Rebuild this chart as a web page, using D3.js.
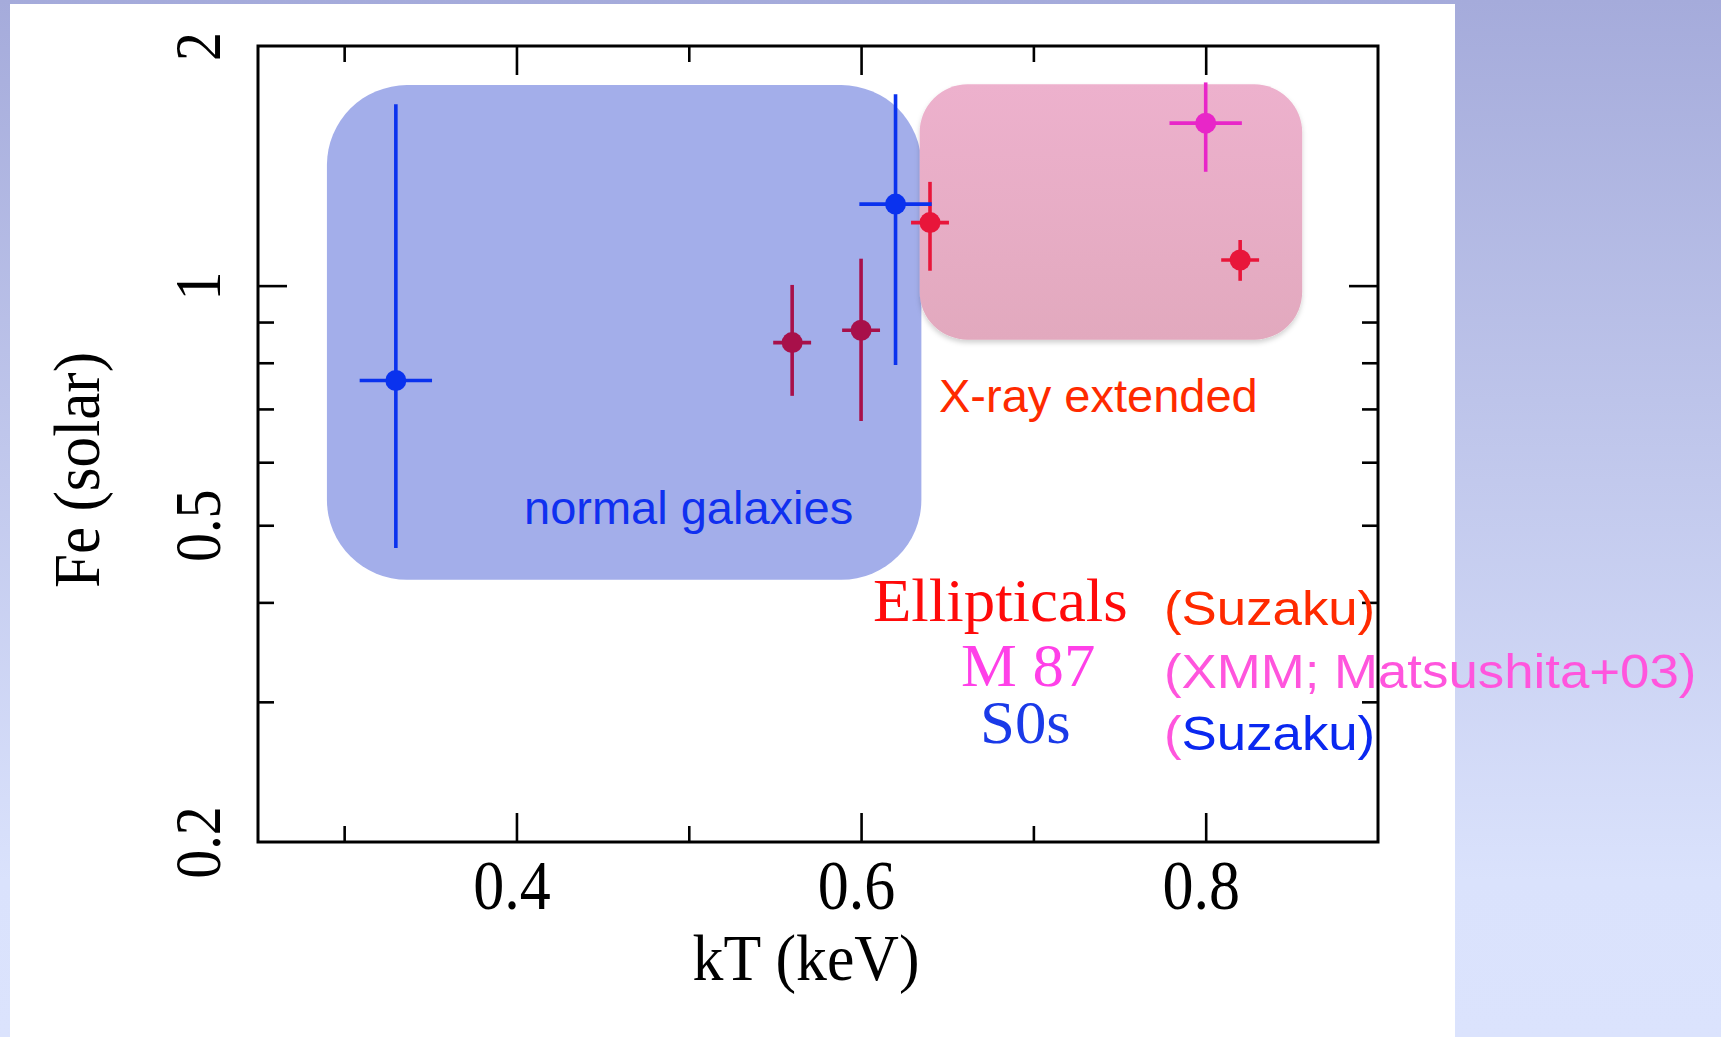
<!DOCTYPE html>
<html>
<head>
<meta charset="utf-8">
<script src="https://cdn.jsdelivr.net/npm/d3@7"></script>
<style>
  html, body { margin: 0; padding: 0; }
  body { width: 1721px; height: 1037px; overflow: hidden; }
  svg { display: block; }
</style>
</head>
<body>
<svg id="chart" width="1721" height="1037"></svg>
<script>
// Fe abundance against gas temperature for early-type galaxies
const sample   = ["S0s", "Ellipticals", "Ellipticals", "S0s", "Ellipticals", "M 87", "Ellipticals"];
const kT       = [0.33, 0.56, 0.60, 0.62, 0.64, 0.80, 0.82];
const kTErr    = [0.021, 0.011, 0.011, 0.021, 0.011, 0.021, 0.011];
const fe       = [0.76, 0.848, 0.879, 1.266, 1.20, 1.60, 1.077];
const feLow    = [0.468, 0.727, 0.676, 0.795, 1.044, 1.39, 1.014];
const feHigh   = [1.69, 1.002, 1.081, 1.74, 1.35, 1.80, 1.141];

// shaded regions (kT range, Fe range)
const regionNames = ["normal galaxies", "X-ray extended"];
const regionKT    = [[0.290, 0.635], [0.634, 0.856]];
const regionFe    = [[0.427, 1.786], [0.855, 1.79]];

// axes
const kTDomain  = [0.25, 0.9];
const feDomain  = [0.2, 2];
const kTMajor   = [0.4, 0.6, 0.8];
const kTMinor   = [0.3, 0.5, 0.7];
const feMajor   = [1];
const feMinor   = [0.3, 0.4, 0.5, 0.6, 0.7, 0.8, 0.9];
const feLabels  = [0.2, 0.5, 1, 2];

// legend
const legendNames   = ["Ellipticals", "M 87", "S0s"];
const legendSources = ["(Suzaku)", "(XMM; Matsushita+03)", "(Suzaku)"];

const serif = "'Liberation Serif', 'Times New Roman', serif";
const sans  = "'Liberation Sans', Arial, Helvetica, sans-serif";

const sampleColor = { "Ellipticals": "#e8163a", "M 87": "#e826c8", "S0s": "#0a32ee" };
const shadedElliptical = "#a8104a";

const svg = d3.select("#chart");
const defs = svg.append("defs");

// slide background
const bg = defs.append("linearGradient").attr("id", "bgGrad")
  .attr("x1", 0).attr("y1", 0).attr("x2", 0).attr("y2", 1);
bg.append("stop").attr("offset", "0%").attr("stop-color", "#a5abdb");
bg.append("stop").attr("offset", "85%").attr("stop-color", "#dae2fc");
bg.append("stop").attr("offset", "100%").attr("stop-color", "#dbe3fd");

const pinkGrad = defs.append("linearGradient").attr("id", "pinkGrad")
  .attr("x1", 0).attr("y1", 0).attr("x2", 0).attr("y2", 1);
pinkGrad.append("stop").attr("offset", "0%").attr("stop-color", "#edb1cd");
pinkGrad.append("stop").attr("offset", "100%").attr("stop-color", "#e2a9be");

const shadow = defs.append("filter").attr("id", "shadow")
  .attr("x", "-10%").attr("y", "-10%").attr("width", "120%").attr("height", "130%");
shadow.append("feDropShadow").attr("dx", 0).attr("dy", 3).attr("stdDeviation", 2.5)
  .attr("flood-color", "#000").attr("flood-opacity", 0.18);

svg.append("rect").attr("x", 0).attr("y", 0).attr("width", 1721).attr("height", 1037)
  .attr("fill", "url(#bgGrad)");
svg.append("rect").attr("x", 10).attr("y", 4).attr("width", 1445).attr("height", 1040)
  .attr("fill", "#ffffff");

const plotL = 258, plotR = 1378, plotT = 46, plotB = 842;
const x = d3.scaleLinear().domain(kTDomain).range([plotL, plotR]);
const y = d3.scaleLog().domain(feDomain).range([plotB, plotT]);

// region boxes
const regionFill = ["#a3aeea", "url(#pinkGrad)"];
const regionRadius = [80, 48];
svg.append("g").selectAll("rect")
  .data(regionNames.map((n, i) => ({ name: n, kt: regionKT[i], fe: regionFe[i], i })))
  .join("rect")
  .attr("x", d => x(d.kt[0]))
  .attr("y", d => y(d.fe[1]))
  .attr("width", d => x(d.kt[1]) - x(d.kt[0]))
  .attr("height", d => y(d.fe[0]) - y(d.fe[1]))
  .attr("rx", d => regionRadius[d.i]).attr("ry", d => regionRadius[d.i])
  .attr("fill", d => regionFill[d.i])
  .attr("filter", d => d.i === 1 ? "url(#shadow)" : null);

// frame and ticks
const frame = svg.append("g");
const majorLen = 29, minorLen = 16;
function ticks(axisFn, scale, values, len, tr) {
  const g = frame.append("g").attr("transform", tr)
    .call(axisFn(scale).tickValues(values).tickSize(-len).tickFormat(""));
  g.select(".domain").remove();
  g.selectAll(".tick line").attr("stroke", "#000").attr("stroke-width", 2.6);
  return g;
}
ticks(d3.axisBottom, x, kTMajor, majorLen, `translate(0,${plotB})`);
ticks(d3.axisBottom, x, kTMinor, minorLen, `translate(0,${plotB})`);
ticks(d3.axisTop, x, kTMajor, majorLen, `translate(0,${plotT})`);
ticks(d3.axisTop, x, kTMinor, minorLen, `translate(0,${plotT})`);
ticks(d3.axisLeft, y, feMajor, majorLen, `translate(${plotL},0)`);
ticks(d3.axisLeft, y, feMinor, minorLen, `translate(${plotL},0)`);
ticks(d3.axisRight, y, feMajor, majorLen, `translate(${plotR},0)`);
ticks(d3.axisRight, y, feMinor, minorLen, `translate(${plotR},0)`);

frame.append("rect")
  .attr("x", plotL).attr("y", plotT).attr("width", plotR - plotL).attr("height", plotB - plotT)
  .attr("fill", "none").attr("stroke", "#000").attr("stroke-width", 3);

// tick labels (serif glyphs drawn slightly tall)
const xLab = svg.append("g").attr("transform", `translate(0,${plotB})`)
  .call(d3.axisBottom(x).tickValues(kTMajor).tickSize(0).tickFormat(d3.format(".1f")));
xLab.select(".domain").remove();
xLab.selectAll("text")
  .attr("y", null).attr("dy", null)
  .attr("transform", "translate(-5,67) scale(1,1.13)")
  .attr("fill", "#000").style("font-family", serif).style("font-size", "62px");

const yLab = svg.append("g").attr("transform", `translate(${plotL},0)`)
  .call(d3.axisLeft(y).tickValues(feLabels).tickSize(0).tickFormat(d => String(d)));
yLab.select(".domain").remove();
yLab.selectAll("text")
  .attr("x", null).attr("dy", null)
  .attr("transform", `translate(${220 - plotL},0) rotate(-90) scale(1,1.12)`)
  .attr("text-anchor", "middle")
  .attr("fill", "#000").style("font-family", serif).style("font-size", "58px");

// axis titles
svg.append("text").attr("transform", "translate(806,980) scale(1.03,1.08)")
  .attr("text-anchor", "middle")
  .style("font-family", serif).style("font-size", "60px").attr("fill", "#000")
  .text("kT (keV)");
svg.append("text").attr("transform", "translate(99,470) rotate(-90) scale(1.02,1.08)")
  .attr("text-anchor", "middle")
  .style("font-family", serif).style("font-size", "60px").attr("fill", "#000")
  .text("Fe (solar)");

// data points with error bars
const points = kT.map((v, i) => ({
  sample: sample[i], kt: v, ktErr: kTErr[i], fe: fe[i], lo: feLow[i], hi: feHigh[i]
}));
function inRegion(d, r) {
  return d.kt >= regionKT[r][0] && d.kt <= regionKT[r][1] &&
         d.fe >= regionFe[r][0] && d.fe <= regionFe[r][1];
}
const colorOf = d => (d.sample === "Ellipticals" && inRegion(d, 0)) ? shadedElliptical : sampleColor[d.sample];

const order = [1, 2, 4, 6, 5, 0, 3];
const pg = svg.append("g").selectAll("g").data(order.map(i => points[i])).join("g")
  .attr("stroke", colorOf).attr("fill", colorOf);
pg.append("line")
  .attr("x1", d => x(d.kt)).attr("x2", d => x(d.kt))
  .attr("y1", d => y(d.lo)).attr("y2", d => y(d.hi))
  .attr("stroke-width", 3.6);
pg.append("line")
  .attr("x1", d => x(d.kt - d.ktErr)).attr("x2", d => x(d.kt + d.ktErr))
  .attr("y1", d => y(d.fe)).attr("y2", d => y(d.fe))
  .attr("stroke-width", 3.6);
pg.append("circle")
  .attr("cx", d => x(d.kt)).attr("cy", d => y(d.fe)).attr("r", 10.5)
  .attr("stroke", "none");

// region labels
svg.append("text").attr("x", 524).attr("y", 524)
  .style("font-family", sans).style("font-size", "47px").attr("fill", "#1030f0")
  .text(regionNames[0]);
svg.append("text").attr("x", 939).attr("y", 412)
  .style("font-family", sans).style("font-size", "47px").attr("fill", "#ff2a00")
  .text(regionNames[1]);

// legend
const legendNameColor = ["#ff0a0a", "#ff40e8", "#1a3ae8"];
const legendNameX = [873, 961, 980];
const legendNameY = [621, 686, 743];
legendNames.forEach((n, i) => {
  svg.append("text")
    .attr("transform", `translate(${legendNameX[i]},${legendNameY[i]}) scale(1.03,1)`)
    .style("font-family", serif).style("font-size", "61px").attr("fill", legendNameColor[i])
    .text(n);
});
const srcY = [625, 688, 750];
const srcColor = ["#ff2a00", "#ff55dd", "#0a28f0"];
legendSources.forEach((s, i) => {
  const t = svg.append("text")
    .attr("transform", `translate(1164,${srcY[i]}) scale(1.1,1)`)
    .style("font-family", sans).style("font-size", "48px").attr("fill", srcColor[i]);
  if (i === 2) {
    t.append("tspan").attr("fill", "#ff55dd").text(s.slice(0, 1));
    t.append("tspan").text(s.slice(1));
  } else {
    t.text(s);
  }
});
</script>
</body>
</html>
